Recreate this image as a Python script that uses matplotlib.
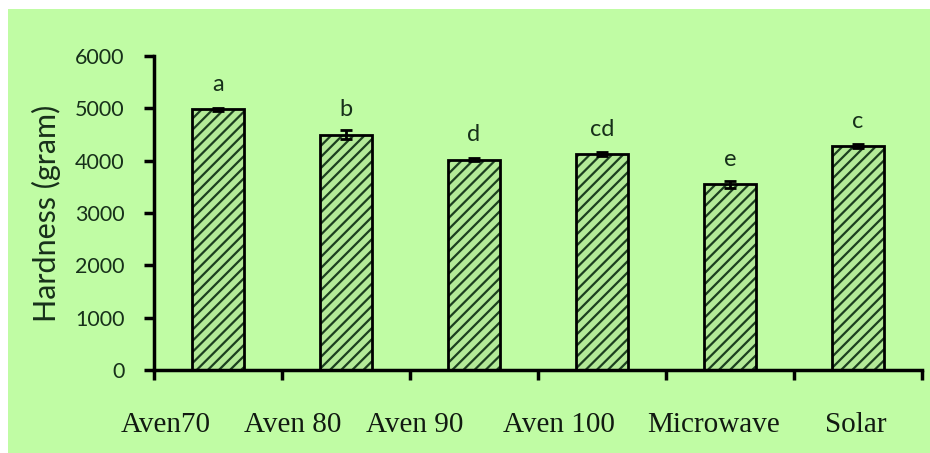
import numpy as np
import matplotlib
matplotlib.use('Agg')
import matplotlib.pyplot as plt
from matplotlib.patches import Rectangle

# data
treatments = ['Aven70', 'Aven 80', 'Aven 90', 'Aven 100', 'Microwave', 'Solar']
hardness = [4980, 4500, 4020, 4130, 3550, 4280]
hardness_err = [30, 95, 25, 40, 70, 40]
groups = ['a', 'b', 'd', 'cd', 'e', 'c']

# the category names in the original sit left of their bars (typed in by hand)
label_pos = [-0.41, 0.58, 1.54, 2.66, 3.87, 4.98]

BG = '#c0fca4'
TXT = '#17301a'

plt.rcParams['hatch.linewidth'] = 1.6

fig = plt.figure(figsize=(9.3, 4.53), dpi=100, facecolor='white')
# green panel, with the thin white border at top and left
fig.patches.append(Rectangle((8 / 930, 0), 1, 1 - 9 / 453, transform=fig.transFigure,
                             facecolor=BG, edgecolor='none', zorder=-10))

ax = fig.add_axes([154 / 930, 1 - 370 / 453, 768 / 930, 314 / 453])
ax.set_facecolor('none')

x = np.arange(len(treatments))
# hatched fill first, then black outline on top
ax.bar(x, hardness, width=0.4, color='#b4ea98', edgecolor='#1c3f1f', linewidth=0,
       hatch='///', zorder=2)
ax.bar(x, hardness, width=0.4, fill=False, edgecolor='black', linewidth=2, zorder=3)
ax.errorbar(x, hardness, yerr=hardness_err, fmt='none', ecolor='black',
            elinewidth=2, capsize=4, capthick=2, zorder=4)

for xi, v, g in zip(x, hardness, groups):
    ax.text(xi, v + 350, g, ha='center', va='baseline', fontsize=17,
            family='Lato', color=TXT)

ax.set_xlim(-0.5, 5.5)
ax.set_ylim(0, 6000)
ax.set_yticks(np.arange(0, 6001, 1000))
ax.set_xticks(label_pos)
ax.set_xticklabels(treatments, family='Liberation Serif', fontsize=21, color='#111a11')
ax.set_xticks(np.arange(-0.5, 6, 1), minor=True)
ax.tick_params(axis='x', which='major', length=0, pad=30)
ax.tick_params(axis='x', which='minor', length=7, width=2.5, direction='out')
ax.tick_params(axis='y', length=7, width=2.5, direction='out', pad=14,
               labelsize=15.5, labelcolor=TXT)
for lab in ax.get_yticklabels():
    lab.set_family('Lato')

ax.set_ylabel('Hardness (gram)', family='Lato', fontsize=22, color=TXT, labelpad=10)

for s in ['top', 'right']:
    ax.spines[s].set_visible(False)
for s in ['left', 'bottom']:
    ax.spines[s].set_linewidth(2.5)

fig.savefig('out.png', dpi=100, facecolor=fig.get_facecolor())
